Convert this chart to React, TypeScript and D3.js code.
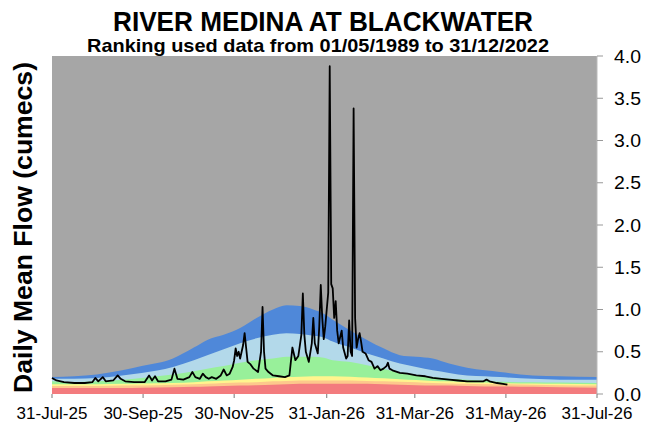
import React from 'react';
import * as d3 from 'd3';

const title = 'RIVER MEDINA AT BLACKWATER';
const subtitle = 'Ranking used data from 01/05/1989 to 31/12/2022';
const yTitle = 'Daily Mean Flow (cumecs)';

const startDay = '2025-07-31';
const endDay = '2026-07-31';
const xTickDates = ['2025-07-31', '2025-09-30', '2025-11-30', '2026-01-31', '2026-03-31', '2026-05-31', '2026-07-31'];
const xTickLabels = ['31-Jul-25', '30-Sep-25', '30-Nov-25', '31-Jan-26', '31-Mar-26', '31-May-26', '31-Jul-26'];
const yTicks = [0, 0.5, 1, 1.5, 2, 2.5, 3, 3.5, 4];

// percentile bands, days after 31-Jul-25
const bandDays = [0, 15, 30, 47, 60, 81, 95, 104, 115, 126, 137, 148, 157, 166, 175, 182, 188, 200, 211, 222, 233, 244, 255, 266, 278, 290, 300, 322, 340, 365];
const redTop = [0.07, 0.07, 0.07, 0.07, 0.075, 0.08, 0.085, 0.09, 0.095, 0.1, 0.105, 0.11, 0.115, 0.12, 0.12, 0.12, 0.12, 0.12, 0.12, 0.115, 0.11, 0.105, 0.1, 0.1, 0.095, 0.09, 0.09, 0.085, 0.08, 0.075];
const orangeTop = [0.095, 0.095, 0.095, 0.1, 0.1, 0.11, 0.115, 0.12, 0.13, 0.135, 0.14, 0.15, 0.155, 0.16, 0.16, 0.16, 0.16, 0.16, 0.155, 0.15, 0.145, 0.14, 0.13, 0.125, 0.12, 0.115, 0.115, 0.11, 0.105, 0.1];
const yellowTop = [0.115, 0.115, 0.115, 0.12, 0.125, 0.13, 0.14, 0.15, 0.16, 0.17, 0.18, 0.19, 0.2, 0.205, 0.21, 0.21, 0.21, 0.205, 0.195, 0.185, 0.175, 0.165, 0.155, 0.15, 0.14, 0.135, 0.13, 0.125, 0.12, 0.115];
const greenTop = [0.15, 0.14, 0.15, 0.17, 0.19, 0.23, 0.27, 0.3, 0.33, 0.37, 0.4, 0.42, 0.44, 0.44, 0.44, 0.43, 0.4, 0.38, 0.34, 0.3, 0.25, 0.22, 0.2, 0.18, 0.17, 0.155, 0.145, 0.14, 0.135, 0.13];
const lightBlueTop = [0.18, 0.18, 0.19, 0.22, 0.25, 0.32, 0.4, 0.46, 0.53, 0.6, 0.66, 0.7, 0.72, 0.71, 0.69, 0.67, 0.62, 0.55, 0.48, 0.42, 0.36, 0.32, 0.28, 0.25, 0.22, 0.21, 0.2, 0.18, 0.17, 0.17];
const blueTop = [0.2, 0.21, 0.23, 0.28, 0.33, 0.42, 0.55, 0.64, 0.7, 0.78, 0.9, 1.0, 1.05, 1.04, 1.0, 0.95, 0.88, 0.75, 0.64, 0.54, 0.46, 0.44, 0.42, 0.36, 0.31, 0.28, 0.26, 0.22, 0.21, 0.2];

// observed daily mean flow, days after 31-Jul-25
const flowDays = [0, 3, 8, 15, 22, 27, 29, 31, 34, 36, 41, 44, 46, 49, 55, 62, 65, 67, 69, 71, 76, 80, 82, 84, 88, 92, 94, 96, 99, 101, 103, 105, 107, 110, 113, 115, 117, 119, 121, 122, 123, 124, 125, 126, 128, 129, 130, 131, 133, 135, 138, 140, 141, 142, 143, 145, 148, 152, 156, 159, 161, 163, 165, 167, 168, 169, 170, 172, 174, 175, 176, 178, 179, 180, 181, 182, 183, 184, 185, 186, 187, 188, 189, 190, 191, 192, 194, 195, 197, 198, 199, 200, 201, 202, 203, 204, 205, 206, 207, 208, 210, 212, 214, 216, 218, 220, 222, 224, 225, 226, 228, 233, 238, 244, 250, 255, 261, 266, 272, 278, 284, 289, 291, 293, 298, 302, 305];
const flowValues = [0.19, 0.16, 0.14, 0.13, 0.13, 0.14, 0.19, 0.15, 0.2, 0.15, 0.16, 0.22, 0.18, 0.15, 0.14, 0.14, 0.22, 0.16, 0.21, 0.15, 0.15, 0.17, 0.3, 0.18, 0.17, 0.2, 0.26, 0.2, 0.18, 0.24, 0.2, 0.18, 0.2, 0.18, 0.22, 0.29, 0.22, 0.24, 0.32, 0.4, 0.54, 0.45, 0.5, 0.42, 0.58, 0.72, 0.55, 0.38, 0.35, 0.3, 0.26, 0.5, 1.03, 0.5, 0.3, 0.26, 0.22, 0.21, 0.2, 0.22, 0.55, 0.4, 0.45, 0.7, 1.19, 0.7, 0.5, 0.38, 0.6, 0.9, 0.6, 0.48, 0.8, 1.29, 0.9, 0.65, 0.8, 1.0, 1.2, 3.88, 1.3, 1.25, 0.9, 1.1, 0.75, 0.6, 0.75, 0.55, 0.42, 0.45, 0.87, 0.5, 0.45, 3.38, 0.9, 0.55, 0.65, 0.72, 0.62, 0.5, 0.48, 0.4, 0.38, 0.3, 0.33, 0.28, 0.3, 0.33, 0.37, 0.3, 0.28, 0.25, 0.24, 0.22, 0.21, 0.19, 0.18, 0.17, 0.16, 0.15, 0.15, 0.15, 0.17, 0.15, 0.13, 0.12, 0.11];

const bands = [
  { top: blueTop, color: '#4f88d9' },
  { top: lightBlueTop, color: '#b3d9ea' },
  { top: greenTop, color: '#98f09a' },
  { top: yellowTop, color: '#fff58e' },
  { top: orangeTop, color: '#fdc88c' },
  { top: redTop, color: '#f37b7e' },
];

const W = 645;
const H = 425;
const left = 52;
const right = 597;
const top = 56;
const bottom = 394;
const font = 'Liberation Sans, Arial, sans-serif';

function SText({ x, y, sx = 1, anchor = 'middle', size, weight = 'normal', children }: any) {
  return (
    <g transform={`translate(${x},${y}) scale(${sx},1)`}>
      <text textAnchor={anchor} fontSize={size} fontWeight={weight} fontFamily={font} fill="#000">
        {children}
      </text>
    </g>
  );
}

export default function App() {
  const parse = d3.timeParse('%Y-%m-%d');
  const start = parse(startDay)!;
  const x = d3.scaleTime().domain([start, parse(endDay)!]).range([left, right]);
  const y = d3.scaleLinear().domain([0, 4]).range([bottom, top]);
  const day = (d: number) => d3.timeDay.offset(start, d);

  const area = d3
    .area<[number, number]>()
    .x((d) => x(day(d[0])))
    .y0(y(0))
    .y1((d) => y(d[1]))
    .curve(d3.curveMonotoneX);

  const line = d3
    .line<[number, number]>()
    .x((d) => x(day(d[0])))
    .y((d) => y(d[1]));

  const flow: [number, number][] = flowDays.map((d, i) => [d, flowValues[i]]);

  return (
    <svg width={W} height={H} style={{ position: 'absolute', left: 0, top: 0, background: '#fff' }}>
      <rect x={left} y={top} width={right - left} height={bottom - top} fill="#a6a6a6" />
      {bands.map((b, i) => (
        <path key={i} d={area(bandDays.map((d, j) => [d, b.top[j]] as [number, number])) || ''} fill={b.color} />
      ))}
      <path d={line(flow) || ''} fill="none" stroke="#000" strokeWidth={1.8} strokeLinejoin="round" />

      <line x1={right} x2={right} y1={top} y2={bottom} stroke="#bbb" />
      {yTicks.map((t) => (
        <g key={t}>
          <line x1={right} x2={right + 6} y1={y(t)} y2={y(t)} stroke="#999" />
          <SText x={614} y={y(t) + 6.5} sx={1.08} anchor="start" size={18}>
            {t.toFixed(1)}
          </SText>
        </g>
      ))}
      {xTickDates.map((d, i) => (
        <g key={d}>
          <line x1={x(parse(d)!)} x2={x(parse(d)!)} y1={bottom} y2={bottom + 4} stroke="#777" />
          <SText x={x(parse(d)!)} y={419} sx={1.0} size={17}>
            {xTickLabels[i]}
          </SText>
        </g>
      ))}

      <text x={323} y={31} textAnchor="middle" fontSize={28} fontWeight="bold" fontFamily={font} textLength={420} lengthAdjust="spacingAndGlyphs">
        {title}
      </text>
      <text x={318} y={52} textAnchor="middle" fontSize={19} fontWeight="bold" fontFamily={font} textLength={462} lengthAdjust="spacingAndGlyphs">
        {subtitle}
      </text>
      <text transform={`translate(32,${(62 + 393) / 2}) rotate(-90)`} textAnchor="middle" fontSize={26} fontWeight="bold" fontFamily={font} textLength={331} lengthAdjust="spacingAndGlyphs">
        {yTitle}
      </text>
    </svg>
  );
}
